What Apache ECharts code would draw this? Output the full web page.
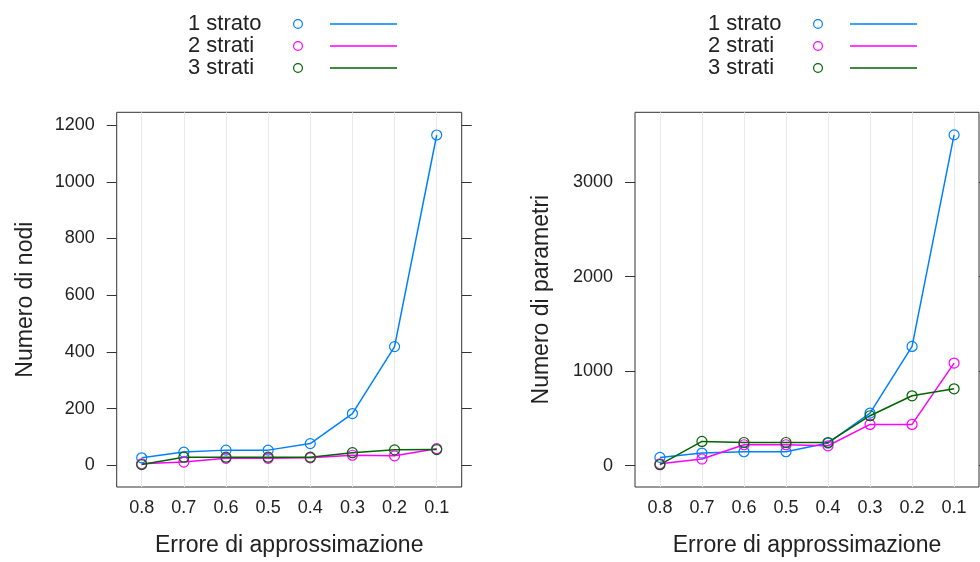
<!DOCTYPE html>
<html>
<head>
<meta charset="utf-8">
<script src="https://cdn.jsdelivr.net/npm/echarts@6/dist/echarts.min.js"></script>
<style>
  html, body { margin: 0; padding: 0; background: #fff; }
  #chart { width: 980px; height: 562px; }
</style>
</head>
<body>
<div id="chart"></div>
<script>
// Approximation error levels (x axis, shown decreasing left to right)
const errori = [0.8, 0.7, 0.6, 0.5, 0.4, 0.3, 0.2, 0.1];

// Number of nodes per network depth
const nodi1 = [27, 47, 54, 54, 77, 183, 419, 1165];
const nodi2 = [6, 12, 25, 25, 27, 36, 34, 59];
const nodi3 = [3, 29, 29, 29, 29, 45, 55, 56];

// Number of parameters per network depth
const param1 = [88, 134, 148, 148, 240, 557, 1262, 3500];
const param2 = [21, 71, 222, 222, 211, 437, 437, 1086];
const param3 = [11, 257, 246, 246, 246, 529, 740, 814];

const nomiSerie = ['1 strato', '2 strati', '3 strati'];
const colori = ['#0080ff', '#ff00ff', '#006400'];

const tickNodi = [0, 200, 400, 600, 800, 1000, 1200];
const tickParam = [0, 1000, 2000, 3000];

const FONT = '"Liberation Sans", Arial, Helvetica, sans-serif';
const TXT = '#222';

const pairs = (ys) => errori.map((x, i) => [x, ys[i]]);

// legend icon: hollow circle followed by a line segment
const iconPath = 'path://M0,5 A5,5 0 1 0 10,5 A5,5 0 1 0 0,5 Z ' +
  'M1.2,5 A3.8,3.8 0 1 1 8.8,5 A3.8,3.8 0 1 1 1.2,5 Z ' +
  'M37,4.2 L104,4.2 L104,5.8 L37,5.8 Z';

function legend(left) {
  return {
    orient: 'vertical',
    left: left,
    top: 8,
    align: 'right',
    icon: iconPath,
    itemWidth: 104,
    itemHeight: 10,
    itemGap: 0,
    selectedMode: false,
    data: nomiSerie.map((n, i) => ({ name: n, itemStyle: { color: colori[i], borderWidth: 0 } })),
    itemStyle: { borderWidth: 0 },
    formatter: (n) => '{t|' + n + '}',
    textStyle: {
      rich: { t: { width: 100, align: 'left', fontSize: 22, lineHeight: 23.4, fontFamily: FONT, color: TXT } }
    }
  };
}

function xAxis(gridIndex) {
  return {
    type: 'value',
    gridIndex: gridIndex,
    inverse: true,
    min: 0.1 - 0.0593,
    max: 0.8 + 0.0593,
    name: 'Errore di approssimazione',
    nameLocation: 'middle',
    nameGap: 47,
    nameTextStyle: { fontSize: 23, fontFamily: FONT, color: TXT },
    axisLine: { show: false },
    axisTick: { show: false, customValues: errori },
    axisLabel: {
      customValues: errori,
      margin: 12,
      fontSize: 18,
      fontFamily: FONT,
      color: TXT,
      formatter: (v) => v.toFixed(1)
    },
    splitLine: { show: true, lineStyle: { color: '#e9e9e9', width: 1 } }
  };
}

function yAxis(gridIndex, min, max, ticks, name, nameGap, side) {
  return {
    type: 'value',
    gridIndex: gridIndex,
    position: side,
    min: min,
    max: max,
    name: side === 'left' ? name : '',
    nameLocation: 'middle',
    nameGap: nameGap,
    nameTextStyle: { fontSize: 23, fontFamily: FONT, color: TXT },
    axisLine: { show: false },
    axisTick: { show: true, length: 10, customValues: ticks, lineStyle: { color: '#333', width: 1 } },
    axisLabel: {
      show: side === 'left',
      customValues: ticks,
      margin: 22,
      fontSize: 18,
      fontFamily: FONT,
      color: TXT,
      formatter: (v) => String(v)
    },
    splitLine: { show: false }
  };
}

function serie(name, data, color, xi, yi) {
  return {
    name: name,
    type: 'line',
    xAxisIndex: xi,
    yAxisIndex: yi,
    data: pairs(data),
    symbol: 'circle',
    symbolSize: 10,
    showSymbol: true,
    color: color,
    lineStyle: { color: color, width: 1.5 },
    itemStyle: { color: 'rgba(255,255,255,0)', borderColor: color, borderWidth: 1.2 },
    emphasis: { disabled: true },
    animation: false
  };
}

const chart = echarts.init(document.getElementById('chart'), null, { renderer: 'canvas' });

chart.setOption({
  backgroundColor: '#fff',
  animation: false,
  legend: [legend(183), legend(703)],
  grid: [
    { left: 116.7, top: 112.3, width: 345, height: 375, show: true, borderColor: '#333', borderWidth: 1, backgroundColor: 'transparent', containLabel: false },
    { left: 635, top: 112.3, width: 344, height: 375, show: true, borderColor: '#333', borderWidth: 1, backgroundColor: 'transparent', containLabel: false }
  ],
  xAxis: [xAxis(0), xAxis(1)],
  yAxis: [
    yAxis(0, -76, 1245, tickNodi, 'Numero di nodi', 80, 'left'),
    yAxis(0, -76, 1245, tickNodi, '', 0, 'right'),
    yAxis(1, -225, 3739, tickParam, 'Numero di parametri', 82, 'left'),
    yAxis(1, -225, 3739, tickParam, '', 0, 'right')
  ],
  series: [
    serie(nomiSerie[0], nodi1, colori[0], 0, 0),
    serie(nomiSerie[1], nodi2, colori[1], 0, 0),
    serie(nomiSerie[2], nodi3, colori[2], 0, 0),
    serie(nomiSerie[0], param1, colori[0], 1, 2),
    serie(nomiSerie[1], param2, colori[1], 1, 2),
    serie(nomiSerie[2], param3, colori[2], 1, 2)
  ]
});
</script>
</body>
</html>
